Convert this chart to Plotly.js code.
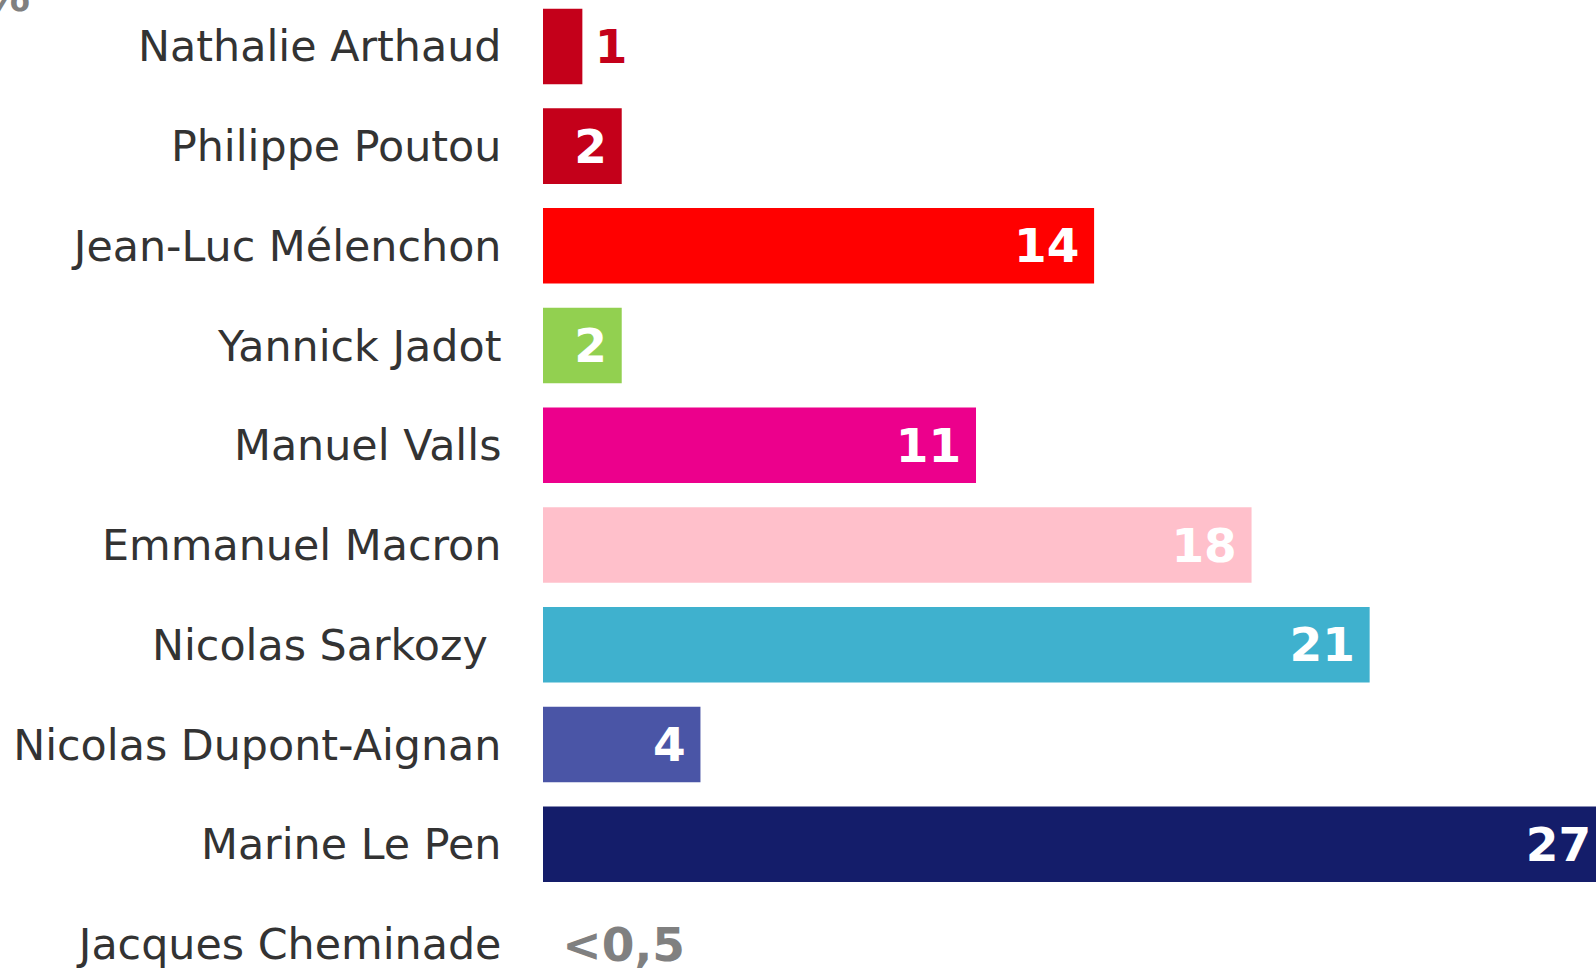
<!DOCTYPE html>
<html>
<head>
<meta charset="utf-8">
<script src="https://cdn.plot.ly/plotly-3.0.1.min.js"></script>
<style>html,body{margin:0;padding:0;background:#fff;}#chart{width:1596px;height:971px;}</style>
</head>
<body>
<div id="chart"></div>
<script>
var candidates = ["Nathalie Arthaud", "Philippe Poutou", "Jean-Luc Mélenchon", "Yannick Jadot", "Manuel Valls", "Emmanuel Macron", "Nicolas Sarkozy\u00a0", "Nicolas Dupont-Aignan", "Marine Le Pen", "Jacques Cheminade"];
var scores = [1, 2, 14, 2, 11, 18, 21, 4, 27, 0];
var scoreLabels = ["1", "2", "14", "2", "11", "18", "21", "4", "27", "<0,5"];
var barColors = ["#c4001a", "#c4001a", "#ff0000", "#92d050", "#ec008c", "#ffc0cb", "#3fb1ce", "#4a55a6", "#141d6a", "#808080"];

var last = scores.length - 1;
var positions = scores.map(function (v, i) { return (i === 0 || i === last) ? "outside" : "inside"; });
var templates = positions.map(function (p, i) {
  if (p === "inside") return "%{text}\u2005";
  return (i === last ? "\u00a0" : "\u2009") + "%{text}";
});

var trace = {
  type: "bar",
  orientation: "h",
  y: candidates,
  x: scores,
  text: scoreLabels,
  texttemplate: templates,
  textposition: positions,
  insidetextanchor: "end",
  insidetextfont: {family: "DejaVu Sans", size: 47, color: "#ffffff", weight: "bold"},
  outsidetextfont: {family: "DejaVu Sans", size: 47, color: barColors, weight: "bold"},
  textfont: {family: "DejaVu Sans", size: 47, weight: "bold"},
  marker: {color: barColors, line: {width: 0}},
  hoverinfo: "none",
  cliponaxis: true
};

var layout = {
  width: 1596,
  height: 971,
  margin: {l: 543, r: 0, t: 0, b: 0, pad: 0},
  paper_bgcolor: "#ffffff",
  plot_bgcolor: "#ffffff",
  bargap: 0.243,
  showlegend: false,
  font: {family: "DejaVu Sans", color: "#333333"},
  xaxis: {range: [0, 26.75], visible: false, showgrid: false, zeroline: false, fixedrange: true},
  yaxis: {
    type: "category",
    range: [9.27, -0.465],
    showgrid: false, zeroline: false, showline: false,
    ticks: "outside", ticklen: 32, tickcolor: "rgba(0,0,0,0)",
    tickfont: {family: "DejaVu Sans", size: 42.8, color: "#333333"},
    fixedrange: true
  },
  annotations: [{
    text: "<b>%</b>", xref: "paper", yref: "paper", x: 0, y: 1,
    xanchor: "right", yanchor: "bottom", xshift: -511, yshift: -24,
    showarrow: false, font: {family: "DejaVu Sans", size: 45, color: "#808080"}
  }]
};

Plotly.newPlot("chart", [trace], layout, {displayModeBar: false, staticPlot: true});
</script>
</body>
</html>
